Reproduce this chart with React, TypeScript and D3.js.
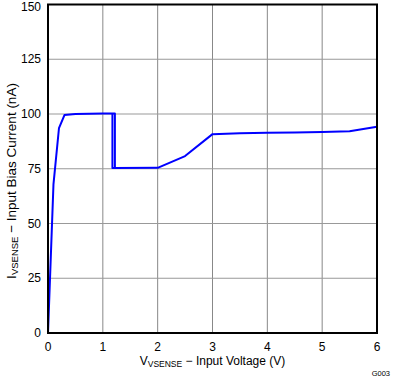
import React from "react";
import * as d3 from "d3";

const xTicks = [0, 1, 2, 3, 4, 5, 6];
const yTicks = [0, 25, 50, 75, 100, 125, 150];

const sweepX = [0, 0.1, 0.2, 0.3, 0.5, 1.0, 1.22, 1.22, 2.0, 2.5, 3.0, 3.5, 4.0, 4.5, 5.0, 5.5, 6.0];
const sweepY = [0, 68, 93.5, 99.5, 100, 100.2, 100.2, 75.3, 75.4, 80.8, 90.8, 91.2, 91.4, 91.6, 91.8, 92.1, 94.2];

const returnX = [1.175, 1.175, 1.22];
const returnY = [100.2, 75.3, 75.3];

const W = 393;
const H = 377;
const M = { left: 48, right: 377, top: 4.5, bottom: 333 };
const FONT = "'Liberation Sans', Arial, sans-serif";

export default function App() {
  const x = d3.scaleLinear().domain([0, 6]).range([M.left, M.right]);
  const y = d3.scaleLinear().domain([0, 150]).range([M.bottom, M.top]);
  const line = d3
    .line<[number, number]>()
    .x((d) => x(d[0]))
    .y((d) => y(d[1]));
  const s1 = sweepX.map((v, i) => [v, sweepY[i]] as [number, number]);
  const s2 = returnX.map((v, i) => [v, returnY[i]] as [number, number]);

  return (
    <svg
      width={W}
      height={H}
      style={{ position: "absolute", left: 0, top: 0, background: "#fff" }}
      fontFamily={FONT}
    >
      {xTicks.slice(1, -1).map((t) => (
        <line key={"gx" + t} x1={x(t)} x2={x(t)} y1={M.top} y2={M.bottom} stroke="#888" strokeWidth={1} />
      ))}
      {yTicks.slice(1, -1).map((t) => (
        <line key={"gy" + t} x1={M.left} x2={M.right} y1={y(t)} y2={y(t)} stroke="#999" strokeWidth={1.2} />
      ))}
      <path d={line(s1) || ""} fill="none" stroke="#0000ff" strokeWidth={2} strokeLinejoin="round" />
      <path d={line(s2) || ""} fill="none" stroke="#0000ff" strokeWidth={2} strokeLinejoin="round" />
      <rect
        x={M.left}
        y={M.top}
        width={M.right - M.left}
        height={M.bottom - M.top}
        fill="none"
        stroke="#000"
        strokeWidth={2}
      />
      {yTicks.map((t) => (
        <text key={"yl" + t} x={41} y={Math.max(y(t), 7)} dy="0.35em" textAnchor="end" fontSize={12} fill="#000">
          {t}
        </text>
      ))}
      {xTicks.map((t) => (
        <text key={"xl" + t} x={x(t)} y={347} dy="0.35em" textAnchor="middle" fontSize={12} fill="#000">
          {t}
        </text>
      ))}
      <text x={(M.left + M.right) / 2} y={361} dy="0.35em" textAnchor="middle" fontSize={12} fill="#000">
        V<tspan fontSize={8.5} dy={2}>VSENSE</tspan>
        <tspan dy={-2}> − Input Voltage (V)</tspan>
      </text>
      <text
        transform={`translate(11, 181) rotate(-90)`}
        textAnchor="middle"
        dy="0.35em"
        fontSize={13.5}
        fill="#000"
      >
        I<tspan fontSize={9.5} dy={2}>VSENSE</tspan>
        <tspan dy={-2}> − Input Bias Current (nA)</tspan>
      </text>
      <text x={390} y={373} dy="0.35em" textAnchor="end" fontSize={7.5} fill="#000">
        G003
      </text>
    </svg>
  );
}
